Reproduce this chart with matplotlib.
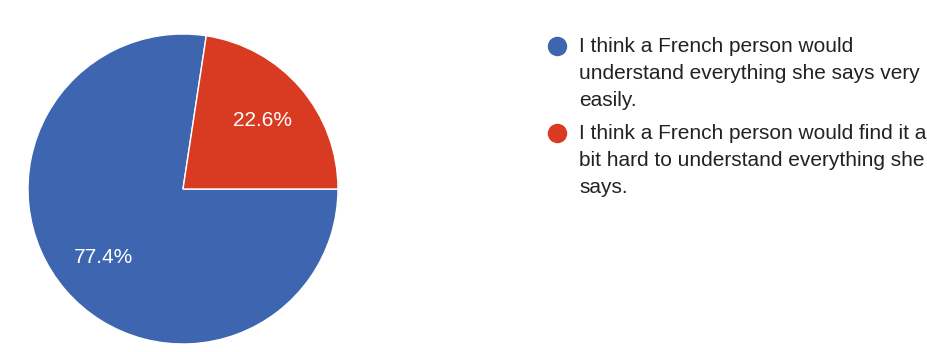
import matplotlib.pyplot as plt
from matplotlib.lines import Line2D

plt.rcParams['font.family'] = ['Liberation Sans', 'DejaVu Sans']

# data
labels = [['I think a French person would', 'understand everything she says very', 'easily.'],
          ['I think a French person would find it a', 'bit hard to understand everything she', 'says.']]
shares = [77.4, 22.6]
colors = ['#3e66b0', '#d93a22']

W, H = 928, 352
fig = plt.figure(figsize=(W / 100, H / 100), dpi=100)

# pie centre (183, 189) px, radius 155 px
cx, cy, r = 183, 189, 155
ax = fig.add_axes([(cx - r) / W, (H - cy - r) / H, 2 * r / W, 2 * r / H])
wedges, texts, autotexts = ax.pie(shares, colors=colors, startangle=0, counterclock=False,
                                  autopct='%.1f%%', pctdistance=0.68,
                                  wedgeprops=dict(edgecolor='white', linewidth=1))
for t in autotexts:
    t.set_color('white')
    t.set_fontsize(15)
ax.set_xlim(-1, 1)
ax.set_ylim(-1, 1)
ax.set_aspect('equal')
ax.axis('off')

# legend drawn by hand so the marker sits on the first line
base_y = [52, 139]
step = 27
for lines, col, by in zip(labels, colors, base_y):
    fig.add_artist(Line2D([557 / W], [1 - (by - 6.5) / H], marker='o', markersize=13,
                          color=col, linestyle='none', transform=fig.transFigure))
    for i, line in enumerate(lines):
        fig.text(579 / W, 1 - (by + i * step) / H, line, fontsize=15, color='#222222',
                 va='baseline', ha='left')

fig.savefig('out.png', dpi=100, facecolor='white')
